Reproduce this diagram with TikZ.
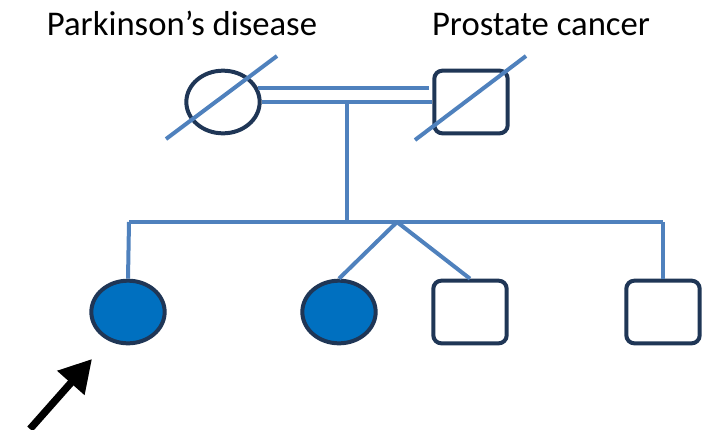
\documentclass[tikz,border=0pt]{standalone}
\usepackage{fontspec}
\setmainfont{Carlito}
\usetikzlibrary{arrows.meta,positioning,calc,shapes.geometric}
\definecolor{pedline}{RGB}{79,129,189}
\definecolor{pededge}{RGB}{31,54,86}
\definecolor{pedfill}{RGB}{0,112,192}

\begin{document}
\begin{tikzpicture}[x=0.75pt, y=-0.75pt,
    every node/.style={font=\fontsize{26}{30}\selectfont},
    female/.style={ellipse, draw=pededge, line width=3pt, fill=#1, minimum width=55pt, minimum height=47pt, inner sep=0pt},
    female/.default=white,
    male/.style={rectangle, draw=pededge, line width=3pt, fill=white, rounded corners=6pt, minimum width=55pt, minimum height=47pt, inner sep=0pt},
    rel/.style={pedline, line width=3pt},
    strike/.style={pedline, line width=3pt},
    proband/.style={-{Triangle[length=24pt, width=26pt]}, line width=5.5pt, black},
]
\useasboundingbox (0,0) rectangle (709,429);
% parents
\node[female] (mom) at (223,102) {};
\node[male] (dad) at (471,102) {};
\node[anchor=base] (pdlabel) at (182,35) {Parkinson’s disease};
\node[anchor=base] (pclabel) at (541,35) {Prostate cancer};
\draw[rel] ($(mom.east)+(-4,-14)$) -- ($(dad.west)+(-3,-14)$);
\draw[rel] (mom.east) -- (dad.west);
\draw[strike] ($(mom)+(-57,37)$) -- ($(mom)+(54,-46)$);
\draw[strike] ($(dad)+(-56,38)$) -- ($(dad)+(55,-46)$);
% children
\node[female=pedfill] (kid1) at (128,312) {};
\node[female=pedfill] (kid2) at (339,312) {};
\node[male] (kid3) at (470,312) {};
\node[male] (kid4) at (663,312) {};
\coordinate (desc) at (347,102);
\coordinate (sibL) at (129,222);
\coordinate (sibR) at (663,222);
\coordinate (twin) at (397,222);
\draw[rel] (desc) -- (desc |- sibL);
\draw[rel] (sibL) -- (sibR);
\draw[rel] (sibL) -- (kid1.north);
\draw[rel] (sibR) -- (kid4.north);
\draw[rel] (twin) -- (kid2.north);
\draw[rel] (twin) -- (kid3.north);
% proband arrow
\coordinate (ptail) at (30,429);
\draw[proband] (ptail) -- (92,359);
\end{tikzpicture}
\end{document}
